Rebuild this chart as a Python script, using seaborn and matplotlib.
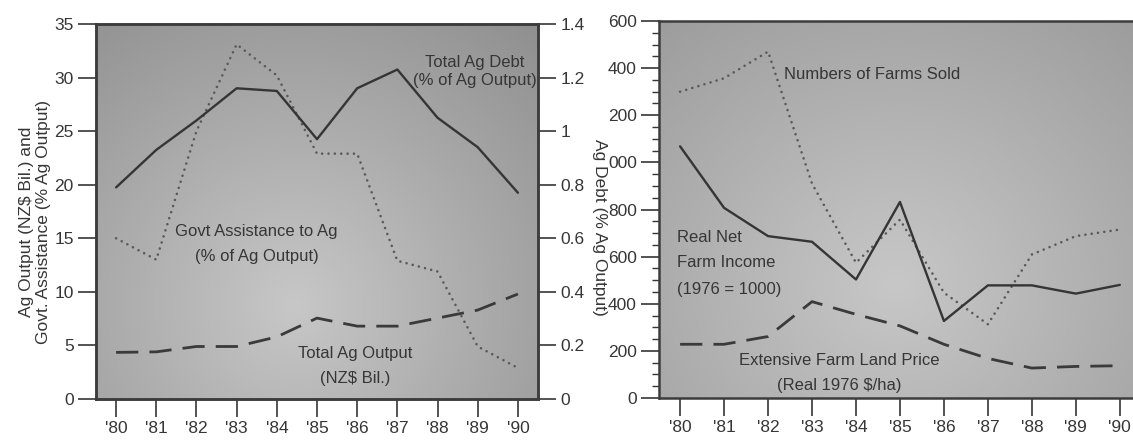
import numpy as np
import matplotlib
matplotlib.use("Agg")
import matplotlib.pyplot as plt
import seaborn as sns

years = [1980, 1981, 1982, 1983, 1984, 1985, 1986, 1987, 1988, 1989, 1990]
year_labels = ["'80", "'81", "'82", "'83", "'84", "'85", "'86", "'87", "'88", "'89", "'90"]

# left panel
ag_debt = [0.79, 0.93, 1.04, 1.16, 1.15, 0.97, 1.16, 1.23, 1.05, 0.94, 0.77]
govt_assist = [15.0, 13.0, 25.0, 33.1, 30.2, 22.9, 22.9, 12.9, 11.9, 4.9, 2.9]
ag_output = [4.35, 4.4, 4.9, 4.9, 5.8, 7.55, 6.8, 6.8, 7.55, 8.3, 9.8]
left_ticks = [0, 5, 10, 15, 20, 25, 30, 35]
debt_ticks = [0, 0.2, 0.4, 0.6, 0.8, 1.0, 1.2, 1.4]
debt_tick_labels = ["0", "0.2", "0.4", "0.6", "0.8", "1", "1.2", "1.4"]

# right panel
farm_income = [1068, 807, 687, 663, 503, 832, 327, 478, 478, 443, 480]
farms_sold = [1300, 1357, 1470, 910, 574, 757, 447, 313, 609, 687, 715]
land_price = [228, 228, 261, 409, 355, 306, 228, 168, 127, 134, 137]
right_ticks = [0, 200, 400, 600, 800, 1000, 1200, 1400, 1600]
right_tick_labels = ["0", "200", "400", "600", "800", "000", "200", "400", "600"]

sns.set_theme(style="ticks")
plt.rcParams["font.family"] = ["Liberation Sans", "DejaVu Sans"]

INK = "#363636"
W, H = 1133, 443
fig = plt.figure(figsize=(W / 100, H / 100), dpi=100)
fig.patch.set_facecolor("white")


def shade(ax, cx, cy, light, dark, sx, sy):
    # soft grey wash behind the plot, like the scanned original
    u, w = np.meshgrid(np.linspace(0, 1, 200), np.linspace(1, 0, 200))
    d = np.sqrt(((u - cx) / sx) ** 2 + ((w - cy) / sy) ** 2)
    v = np.clip(light - (light - dark) * d, 0, 1)
    ax.imshow(v, cmap="gray", vmin=0, vmax=1, extent=[0, 1, 0, 1],
              transform=ax.transAxes, aspect="auto", zorder=0, interpolation="bicubic")


def style_axis(ax):
    ax.tick_params(axis="both", colors=INK, labelcolor=INK, labelsize=12.5,
                   length=13, width=1.2, direction="out", pad=3)
    for s in ax.spines.values():
        s.set_color("#3c3c3c")
        s.set_linewidth(1.8)


dot = dict(linestyle=(0, (0.01, 2.4)), dash_capstyle="round", linewidth=1.9, color="#5a5a5a")
dash = dict(linestyle=(0, (8, 4)), linewidth=2.0, color="#3a3a3a")
solid = dict(linestyle="-", linewidth=1.7, color="#353535")
txt = dict(fontsize=12, color=INK, ha="center", va="center")

# ---- left panel ----
ax = fig.add_axes([96 / W, (H - 399) / H, 442 / W, 375 / H])
shade(ax, 0.45, 0.25, 0.78, 0.56, 0.85, 1.0)
sns.lineplot(x=years, y=govt_assist, ax=ax, **dot)
sns.lineplot(x=years, y=ag_output, ax=ax, **dash)
ax.set_xlim(1979.5, 1990.5)
ax.set_ylim(0, 35)
ax.set_xticks(years)
ax.set_xticklabels(year_labels)
ax.set_yticks(left_ticks)
ax.set_yticklabels([str(t) for t in left_ticks])
style_axis(ax)
ax.set_ylabel("Ag Output (NZ$ Bil.) and\nGovt. Assistance (% Ag Output)",
              fontsize=12.5, color=INK, linespacing=1.2)
ax.yaxis.set_label_coords((51 - 96) / 442, (399 - 222) / 375)

ax2 = ax.twinx()
sns.lineplot(x=years, y=ag_debt, ax=ax2, **solid)
ax2.set_ylim(0, 1.4)
ax2.set_yticks(debt_ticks)
ax2.set_yticklabels(debt_tick_labels)
ax2.set_xlim(1979.5, 1990.5)
style_axis(ax2)

ax.text(1988.92, 31.4, "Total Ag Debt", **txt)
ax.text(1988.92, 29.7, "(% of Ag Output)", **txt)
ax.text(1983.5, 15.66, "Govt Assistance to Ag", **txt)
ax.text(1983.5, 13.3, "(% of Ag Output)", **txt)
ax.text(1985.94, 4.27, "Total Ag Output", **txt)
ax.text(1985.94, 1.93, "(NZ$ Bil.)", **txt)

fig.text(599 / W, 1 - 227 / H, "Ag Debt (% Ag Output)", rotation=-90,
         fontsize=12.5, color=INK, ha="center", va="center")

# ---- right panel ----
bx = fig.add_axes([659 / W, (H - 398) / H, 474 / W, 377 / H])
shade(bx, 0.5, 0.3, 0.78, 0.58, 0.95, 1.1)
sns.lineplot(x=years, y=farms_sold, ax=bx, **dot)
sns.lineplot(x=years, y=land_price, ax=bx, **dash)
sns.lineplot(x=years, y=farm_income, ax=bx, **solid)
bx.set_xlim(1979.52, 1990.3)
bx.set_ylim(0, 1600)
bx.set_xticks(years)
bx.set_xticklabels(year_labels)
bx.set_yticks(right_ticks)
bx.set_yticklabels(right_tick_labels)
bx.set_yticks(np.arange(0, 1601, 50), minor=True)
style_axis(bx)
bx.tick_params(axis="y", which="minor", length=5, width=1.0, colors=INK)
bx.spines["right"].set_visible(False)

bx.text(1984.37, 1375, "Numbers of Farms Sold", **txt)
left_txt = dict(txt, ha="left")
bx.text(1979.93, 680, "Real Net", **left_txt)
bx.text(1979.93, 574, "Farm Income", **left_txt)
bx.text(1979.93, 461, "(1976 = 1000)", **left_txt)
bx.text(1983.63, 158, "Extensive Farm Land Price", **txt)
bx.text(1983.63, 52, "(Real 1976 $/ha)", **txt)

fig.savefig("out.png", dpi=100)
